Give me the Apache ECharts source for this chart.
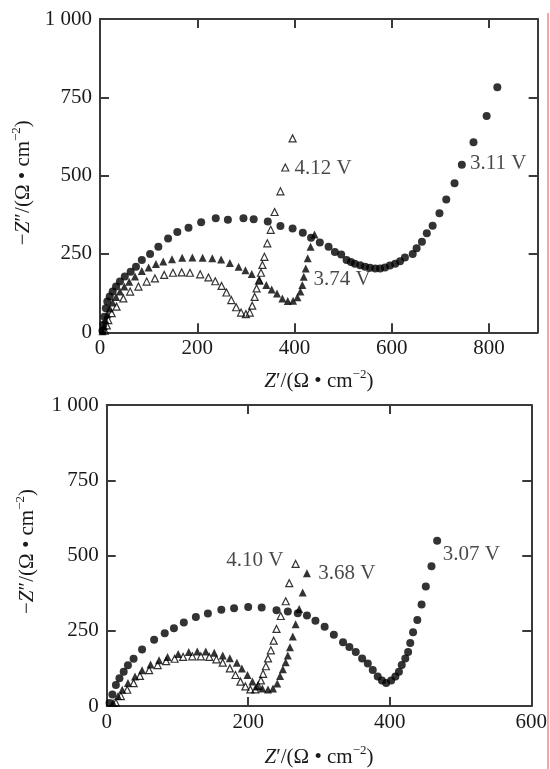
<!DOCTYPE html>
<html>
<head>
<meta charset="utf-8">
<script src="https://cdn.jsdelivr.net/npm/echarts@6/dist/echarts.min.js"></script>
<style>html,body{margin:0;padding:0;background:#fff;}#c{width:550px;height:769px;}</style>
</head>
<body>
<div id="c"></div>
<script>
// ---- Data (Z', -Z'') ----
const top311 = [[5,5],[7,25],[9,50],[12,77],[15,98],[20,114],[26,130],[33,146],[41,162],[51,178],[63,193],[74,209],[86,231],[103,250],[120,273],[140,299],[159,320],[182,334],[208,351],[238,364],[263,359],[295,364],[316,361],[345,354],[371,339],[396,331],[417,318],[434,302],[452,287],[470,273],[483,256],[496,248],[507,231],[516,224],[524,219],[535,214],[545,209],[555,206],[566,204],[576,204],[586,207],[596,213],[607,219],[617,227],[627,239],[643,250],[651,268],[662,289],[672,316],[684,340],[698,380],[712,424],[729,476],[744,535],[768,607],[795,690],[817,782]];
const top374 = [[5,3],[8,20],[11,40],[15,58],[20,76],[26,95],[33,113],[41,130],[50,146],[60,161],[72,178],[86,196],[100,207],[115,218],[130,226],[148,233],[169,238],[190,239],[211,238],[231,236],[249,232],[267,221],[285,209],[299,198],[312,186],[328,167],[342,151],[353,137],[364,124],[375,108],[386,100],[397,101],[406,112],[412,130],[416,151],[419,177],[423,204],[427,236],[433,273],[441,312]];
const top412 = [[10,5],[14,22],[17,39],[24,61],[34,82],[48,108],[62,130],[79,146],[96,162],[113,172],[132,183],[150,190],[168,191],[185,190],[206,185],[223,175],[237,163],[250,148],[260,127],[270,103],[280,80],[290,63],[300,58],[308,63],[313,85],[318,113],[322,140],[327,165],[331,190],[334,215],[338,241],[344,284],[351,327],[359,384],[371,450],[381,526],[396,619]];
const bot307 = [[4,10],[8,38],[13,70],[18,92],[24,114],[30,135],[38,157],[50,188],[67,220],[82,242],[95,258],[109,277],[126,296],[143,307],[162,320],[180,325],[200,329],[219,327],[240,318],[256,314],[270,308],[283,301],[295,283],[308,263],[321,237],[334,212],[343,196],[352,179],[361,158],[369,141],[376,120],[383,98],[389,85],[395,76],[402,85],[408,98],[413,114],[417,136],[422,158],[426,179],[429,209],[433,245],[439,286],[445,337],[451,397],[459,464],[467,549]];
const bot368 = [[9,11],[16,33],[22,54],[30,76],[40,98],[50,119],[62,138],[74,152],[86,163],[101,173],[116,179],[128,181],[140,181],[152,177],[164,168],[174,159],[184,144],[191,125],[199,103],[206,81],[213,65],[220,58],[228,55],[235,58],[241,75],[245,100],[249,122],[253,145],[256,168],[259,195],[263,231],[267,272],[272,322],[277,377],[283,441]];
const bot410 = [[13,11],[20,33],[29,54],[38,76],[47,100],[60,119],[72,136],[84,149],[96,157],[108,163],[121,165],[133,165],[145,163],[155,155],[164,144],[174,125],[182,103],[189,81],[196,65],[203,55],[210,55],[214,68],[218,85],[221,107],[225,132],[228,158],[232,185],[236,217],[240,256],[246,299],[253,348],[258,408],[267,472]];
// annotation text and its anchor (data units, left edge / vertical middle)
const topNotes = [['4.12 V',400,522],['3.74 V',439,167],['3.11 V',761,539]];
const botNotes = [['4.10 V',169,484],['3.68 V',299,440],['3.07 V',475,505]];
// axis ticks
const yTickLabels = {0:'0',250:'250',500:'500',750:'750',1000:'1 000'};
const topXMax = 900, botXMax = 600, xStep = 200, yMax = 1000, yStep = 250;

const FONT = 'Liberation Serif, Times New Roman, serif';
const TXT = '#1a1a1a';
const LINE = '#3a3a3a';
const FS = 21;

const nameRich = {
  n:{fontFamily:FONT,fontSize:FS,color:TXT,lineHeight:24,verticalAlign:'bottom'},
  i:{fontFamily:FONT,fontSize:FS,color:TXT,fontStyle:'italic',lineHeight:24,verticalAlign:'bottom'},
  s:{fontFamily:FONT,fontSize:13,color:TXT,lineHeight:14,verticalAlign:'top'}
};
const xName = '{i|Z}{n|′/(Ω • cm}{s|−2}{n|)}';
const yName = '{n|−}{i|Z}{n|″/(Ω • cm}{s|−2}{n|)}';

function xAxes(grid, max, showMax, gap){
  const common = {gridIndex:grid,type:'value',min:0,max:max,interval:xStep,
    axisLine:{show:true,onZero:false,lineStyle:{color:LINE,width:2}},
    axisTick:{show:true,inside:true,length:9,lineStyle:{color:LINE,width:2}},
    splitLine:{show:false}};
  return [
    Object.assign({}, common, {position:'bottom',
      axisLabel:{show:true,margin:6,fontFamily:FONT,fontSize:FS,color:TXT,showMaxLabel:showMax},
      name:xName,nameLocation:'middle',nameGap:gap,nameTextStyle:{rich:nameRich}}),
    Object.assign({}, common, {position:'top',axisLabel:{show:false}})
  ];
}
function yAxes(grid, gap, pad){
  const common = {gridIndex:grid,type:'value',min:0,max:yMax,interval:yStep,
    axisLine:{show:true,onZero:false,lineStyle:{color:LINE,width:2}},
    axisTick:{show:true,inside:true,length:9,lineStyle:{color:LINE,width:2}},
    splitLine:{show:false}};
  return [
    Object.assign({}, common, {position:'left',
      axisLabel:{show:true,margin:8,fontFamily:FONT,fontSize:FS,color:TXT,formatter:v=>yTickLabels[v]!==undefined?yTickLabels[v]:''},
      name:yName,nameLocation:'middle',nameGap:gap,nameRotate:90,nameTextStyle:{rich:nameRich,padding:pad}}),
    Object.assign({}, common, {position:'right',axisLabel:{show:false}})
  ];
}

function pts(xi, yi, data, kind){
  const s = {type:'scatter',xAxisIndex:xi,yAxisIndex:yi,data:data,silent:true};
  if(kind==='circle'){ s.symbol='circle'; s.symbolSize=8; s.itemStyle={color:'#000'}; }
  else if(kind==='tri'){ s.symbol='triangle'; s.symbolSize=8; s.itemStyle={color:'#000'}; }
  else { s.symbol='triangle'; s.symbolSize=7; s.itemStyle={color:'rgba(255,255,255,0)',borderColor:'#000',borderWidth:1.2}; }
  return s;
}
function notes(xi, yi, arr){
  return {type:'scatter',xAxisIndex:xi,yAxisIndex:yi,symbolSize:0,silent:true,z:5,
    data:arr.map(a=>[a[1],a[2],a[0]]),
    label:{show:true,position:'right',distance:0,formatter:p=>p.data[2],fontFamily:FONT,fontSize:FS,color:TXT}};
}

const chart = echarts.init(document.getElementById('c'),null,{renderer:'canvas'});
chart.setOption({
  animation:false,
  backgroundColor:'#fff',
  grid:[{left:100,top:19,right:12.3,bottom:436.7},{left:106.7,top:405,right:12,bottom:57.3}],
  xAxis:[].concat(xAxes(0,topXMax,false,36), xAxes(1,botXMax,true,38)),
  yAxis:[].concat(yAxes(0,63,[0,14,0,0]), yAxes(1,69,[0,0,0,8])),
  series:[
    pts(0,0,top311,'circle'), pts(0,0,top374,'tri'), pts(0,0,top412,'open'), notes(0,0,topNotes),
    pts(2,2,bot307,'circle'), pts(2,2,bot368,'tri'), pts(2,2,bot410,'open'), notes(2,2,botNotes)
  ],
  graphic:[{type:'line',silent:true,shape:{x1:548,y1:13,x2:548,y2:769},style:{stroke:'#f4a6a6',lineWidth:2}}]
});
</script>
</body>
</html>
